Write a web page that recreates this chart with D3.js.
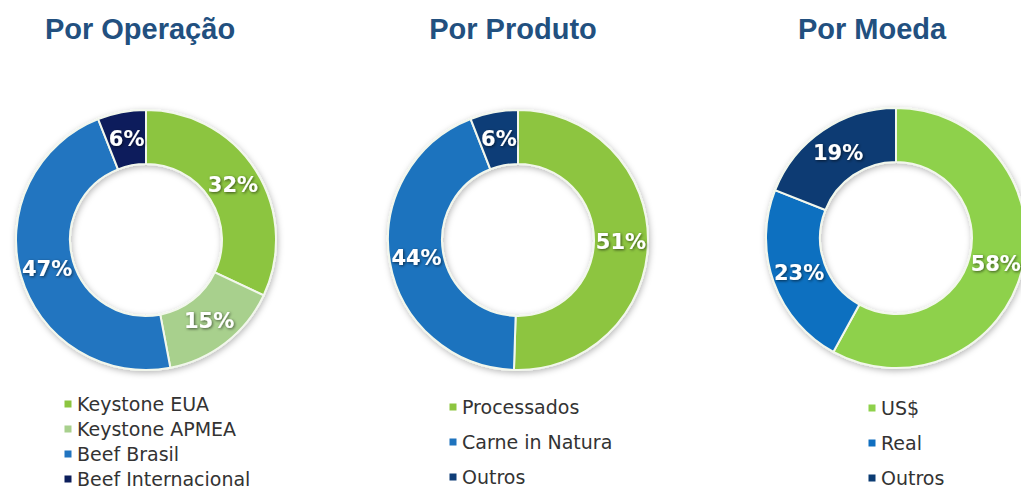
<!DOCTYPE html>
<html>
<head>
<meta charset="utf-8">
<script src="https://cdn.jsdelivr.net/npm/d3@7"></script>
<style>
  html, body { margin: 0; padding: 0; background: #ffffff; }
  svg { display: block; }
</style>
</head>
<body>
<svg id="chart" width="1021" height="492"></svg>
<script>
// ---- Data ----
const titles = ["Por Operação", "Por Produto", "Por Moeda"];

const operacaoCategories = ["Keystone EUA", "Keystone APMEA", "Beef Brasil", "Beef Internacional"];
const operacaoValues = [32, 15, 47, 6];

const produtoCategories = ["Processados", "Carne in Natura", "Outros"];
const produtoValues = [51, 44, 6];

const moedaCategories = ["US$", "Real", "Outros"];
const moedaValues = [58, 23, 19];

// ---- Styles / layout ----
const operacaoColors = ["#8CC540", "#A8D08D", "#2174C0", "#0C1E5B"];
const produtoColors = ["#8DC540", "#1E73BE", "#0F3D77"];
const moedaColors = ["#8ED14B", "#106FC0", "#0B3B73"];

const panels = [
  { title: titles[0], cats: operacaoCategories, vals: operacaoValues, colors: operacaoColors,
    cx: 146, cy: 240, titleX: 140, legX: 68, legY: 404, legStep: 25 },
  { title: titles[1], cats: produtoCategories, vals: produtoValues, colors: produtoColors,
    cx: 518, cy: 240, titleX: 513, legX: 453, legY: 407, legStep: 35 },
  { title: titles[2], cats: moedaCategories, vals: moedaValues, colors: moedaColors,
    cx: 896, cy: 238, titleX: 872, legX: 872, legY: 408, legStep: 35 }
];

const outerR = 130, innerR = 76;
const svg = d3.select("#chart");

const defs = svg.append("defs");
const ringShadow = defs.append("filter").attr("id", "ringShadow")
  .attr("x", "-20%").attr("y", "-20%").attr("width", "140%").attr("height", "140%");
ringShadow.append("feDropShadow").attr("dx", 1).attr("dy", 2).attr("stdDeviation", 3)
  .attr("flood-color", "#000").attr("flood-opacity", 0.28);

const textShadow = defs.append("filter").attr("id", "textShadow")
  .attr("x", "-30%").attr("y", "-30%").attr("width", "160%").attr("height", "160%");
textShadow.append("feDropShadow").attr("dx", 1).attr("dy", 1).attr("stdDeviation", 1.4)
  .attr("flood-color", "#000").attr("flood-opacity", 0.6);

const legendBlur = defs.append("filter").attr("id", "soft");
legendBlur.append("feGaussianBlur").attr("stdDeviation", 0.35);

const pie = d3.pie().sort(null).value(d => d);
const arc = d3.arc().innerRadius(innerR).outerRadius(outerR);
const labelArc = d3.arc().innerRadius((innerR + outerR) / 2).outerRadius((innerR + outerR) / 2);

panels.forEach(p => {
  // Title
  svg.append("text")
    .attr("x", p.titleX).attr("y", 39)
    .attr("text-anchor", "middle")
    .attr("font-family", "'Liberation Sans', Arial, sans-serif")
    .attr("font-weight", "bold")
    .attr("font-size", 29)
    .attr("fill", "#22507F")
    .text(p.title);

  const g = svg.append("g").attr("transform", `translate(${p.cx},${p.cy})`);
  const arcs = pie(p.vals);
  const color = d3.scaleOrdinal().domain(p.cats).range(p.colors);

  g.append("g").attr("filter", "url(#ringShadow)")
    .selectAll("path").data(arcs).join("path")
    .attr("d", arc)
    .attr("fill", (d, i) => color(p.cats[i]))
    .attr("stroke", "#F2F7EC")
    .attr("stroke-width", 2);

  g.selectAll("text.lbl").data(arcs).join("text")
    .attr("class", "lbl")
    .attr("transform", d => `translate(${labelArc.centroid(d)})`)
    .attr("text-anchor", "middle")
    .attr("dominant-baseline", "central")
    .attr("font-family", "'DejaVu Sans', Verdana, sans-serif")
    .attr("font-weight", "bold")
    .attr("font-size", 21)
    .attr("fill", "#ffffff")
    .attr("filter", "url(#textShadow)")
    .text(d => d.data + "%");

  // Legend
  const lg = svg.append("g");
  const rows = lg.selectAll("g").data(p.cats).join("g")
    .attr("transform", (d, i) => `translate(${p.legX},${p.legY + i * p.legStep})`);
  rows.append("rect")
    .attr("x", -3.5).attr("y", -3.5).attr("width", 7).attr("height", 7)
    .attr("fill", d => color(d));
  rows.append("text")
    .attr("x", 9).attr("y", 0)
    .attr("dominant-baseline", "central")
    .attr("font-family", "'DejaVu Sans', sans-serif")
    .attr("font-size", 19)
    .attr("fill", "#333333")
    .text(d => d);
});
</script>
</body>
</html>
